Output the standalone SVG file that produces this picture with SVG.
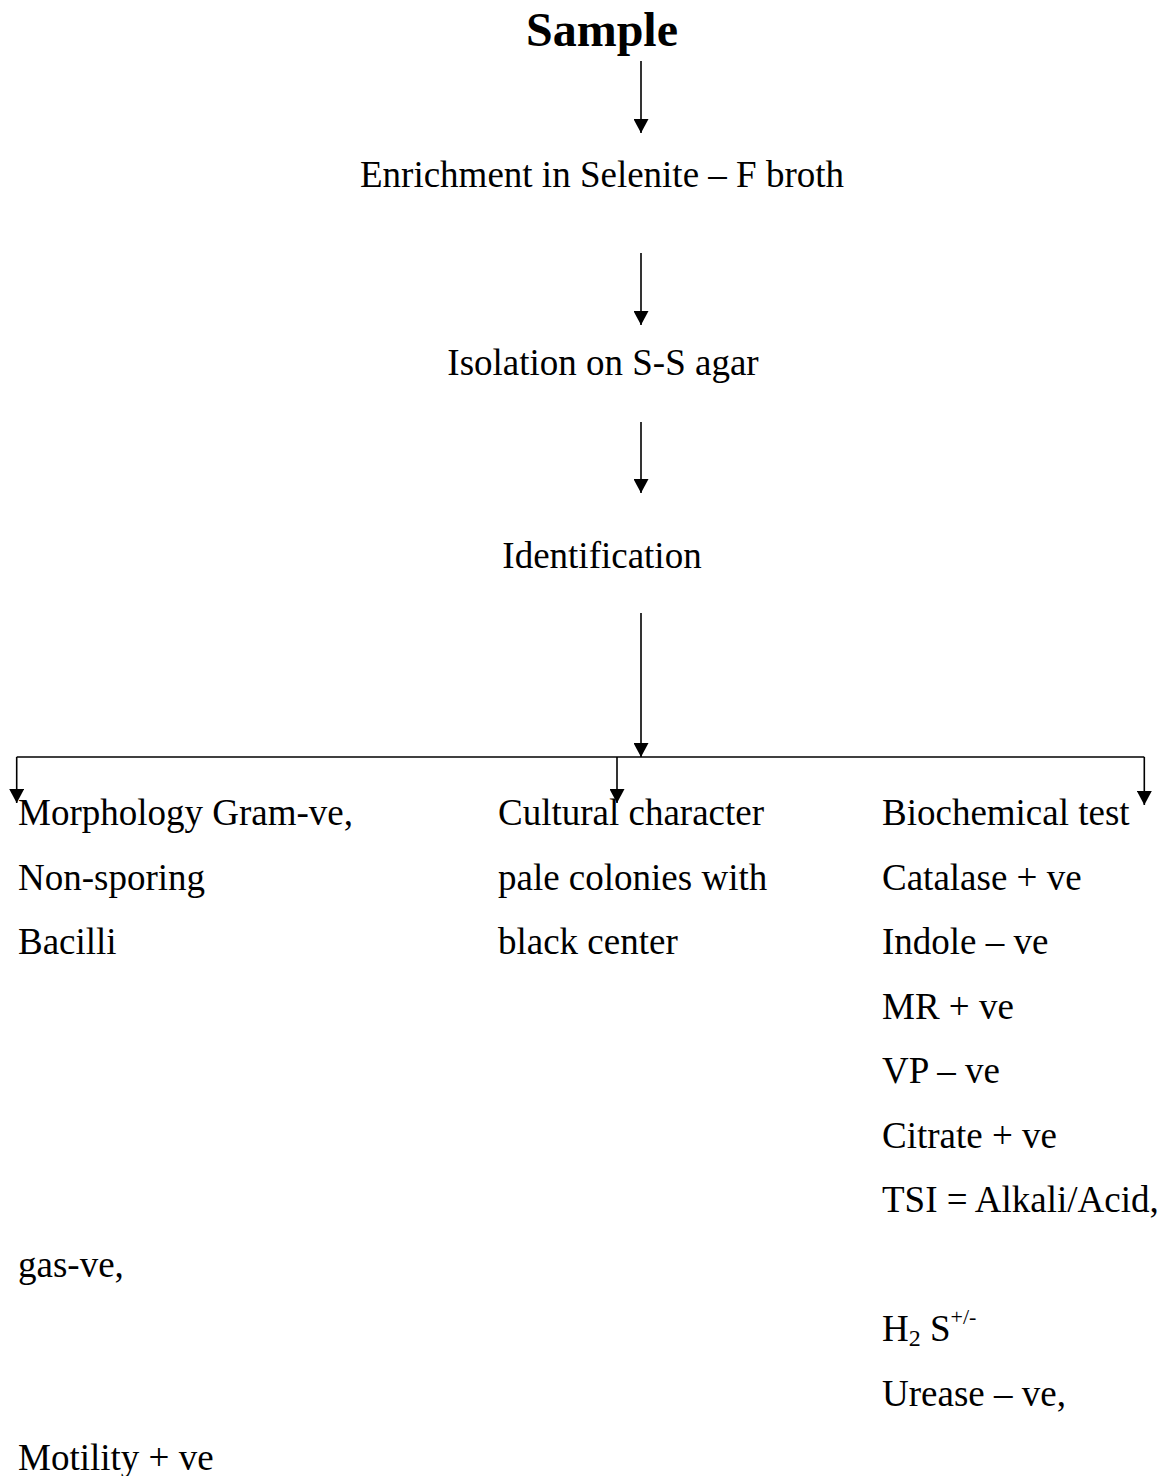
<svg xmlns="http://www.w3.org/2000/svg" width="1173" height="1476" viewBox="0 0 1173 1476">
<style>
text{font-family:"Liberation Serif","Times New Roman",serif;fill:#000;font-size:37px}
.title{font-size:48px;font-weight:bold}
.c{text-anchor:middle}
.ln{stroke:#000;stroke-width:1.6;fill:none}
.sub{font-size:24px}
.sup{font-size:22px}
</style>
<defs>
<marker id="ah" markerWidth="16" markerHeight="15" refX="14" refY="7.5" orient="auto" markerUnits="userSpaceOnUse">
<path d="M0,0 L14,7.5 L0,15 Z" fill="#000"/>
</marker>
</defs>
<rect width="1173" height="1476" fill="#fff"/>
<g id="connectors">
<line class="ln" x1="641" y1="61" x2="641" y2="133" marker-end="url(#ah)"/>
<line class="ln" x1="641" y1="253" x2="641" y2="325" marker-end="url(#ah)"/>
<line class="ln" x1="641" y1="422" x2="641" y2="493" marker-end="url(#ah)"/>
<line class="ln" x1="641" y1="613" x2="641" y2="757" marker-end="url(#ah)"/>
<line class="ln" x1="16.7" y1="757" x2="1144.3" y2="757"/>
<line class="ln" x1="16.7" y1="757" x2="16.7" y2="803" marker-end="url(#ah)"/>
<line class="ln" x1="617" y1="757" x2="617" y2="803" marker-end="url(#ah)"/>
<line class="ln" x1="1144.3" y1="757" x2="1144.3" y2="805" marker-end="url(#ah)"/>
</g>
<g id="sample"><text class="title c" x="602" y="46">Sample</text></g>
<g id="enrichment"><text class="c" x="602" y="187">Enrichment in Selenite – F broth</text></g>
<g id="isolation"><text class="c" x="603" y="375">Isolation on S-S agar</text></g>
<g id="identification"><text class="c" x="602" y="568">Identification</text></g>
<g id="morphology">
<text x="18" y="825">Morphology Gram-ve,</text>
<text x="18" y="889.5">Non-sporing</text>
<text x="18" y="954">Bacilli</text>
<text x="18" y="1276.5">gas-ve,</text>
<text x="18" y="1470">Motility + ve</text>
</g>
<g id="cultural">
<text x="498" y="825">Cultural character</text>
<text x="498" y="889.5">pale colonies with</text>
<text x="498" y="954">black center</text>
</g>
<g id="biochemical">
<text x="882" y="825">Biochemical test</text>
<text x="882" y="889.5">Catalase + ve</text>
<text x="882" y="954">Indole – ve</text>
<text x="882" y="1018.5">MR + ve</text>
<text x="882" y="1083">VP – ve</text>
<text x="882" y="1147.5">Citrate + ve</text>
<text x="882" y="1212">TSI = Alkali/Acid,</text>
<text x="882" y="1341">H<tspan class="sub" dy="5">2</tspan><tspan dy="-5"> S</tspan><tspan class="sup" dy="-17">+/-</tspan></text>
<text x="882" y="1405.5">Urease – ve,</text>
</g>
</svg>
